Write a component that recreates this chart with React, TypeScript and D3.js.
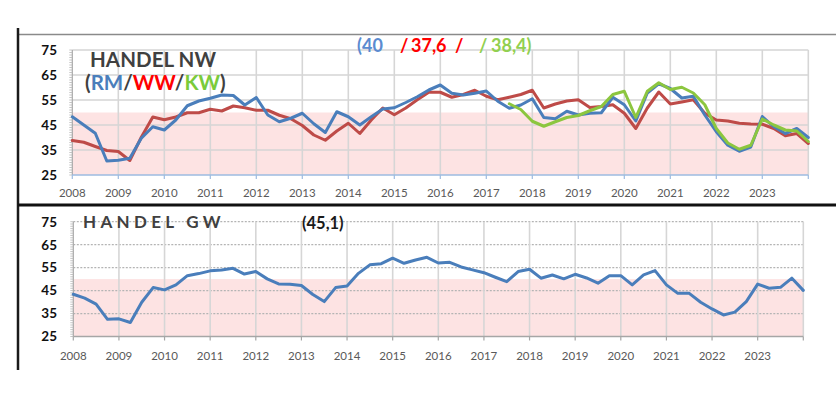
import React from "react";
import * as d3 from "d3";

// Quarterly categories 2008 Q1 .. 2024 Q1 (x positions in years)
const quarters: number[] = d3.range(65).map((i) => 2008 + i / 4);
const yearTicks: number[] = [2008, 2009, 2010, 2011, 2012, 2013, 2014, 2015, 2016, 2017, 2018, 2019, 2020, 2021, 2022, 2023];
const yTicks: number[] = [25, 35, 45, 55, 65, 75];

// HANDEL NW – RM (blue)
const rmValues: number[] = [
  48.3, 45, 41.7, 30.6, 30.9, 31.7, 39.7, 44.3, 43, 47,
  52.7, 54.6, 55.7, 57, 56.8, 53, 56, 49, 46.3, 47.7,
  49.7, 45.5, 42, 50.3, 48.3, 45, 48.3, 51.4, 51.9, 54,
  56.3, 59, 61, 57.7, 57, 57.7, 58.6, 54.5, 51.7, 53,
  55.5, 48, 47.5, 50.5, 49, 49.7, 49.9, 56.1, 53.1, 46.6,
  57.8, 61.5, 59.6, 55.8, 56.5, 49, 42.3, 36.9, 34.5, 36.2,
  48.4, 44.3, 41.6, 43.6, 40,
];
// HANDEL NW – WW (red)
const wwValues: number[] = [
  38.8, 38.1, 36.4, 34.8, 34.4, 30.8, 40.1, 48.2, 47.1, 48.2,
  49.9, 49.9, 51.3, 50.6, 52.6, 51.9, 50.9, 50.9, 48.9, 47.5,
  44.8, 41, 38.9, 42.6, 45.7, 41.6, 47, 51.8, 49.1, 51.8,
  55.1, 58.1, 58.1, 56.1, 57.2, 58.9, 56.5, 55.1, 56.1, 57.2,
  58.9, 51.8, 53.4, 54.6, 55.1, 52, 52.4, 53.1, 49.7, 43.6,
  51.8, 58.2, 53.4, 54.2, 55.1, 49.7, 47, 46.6, 45.7, 45.4,
  45.3, 43.6, 40.7, 41.6, 37.6,
];
// HANDEL NW – KW (green), starts at 2017 Q3 (category index 38)
const kwStartIndex = 38;
const kwValues: number[] = [
  53.5, 51.2, 46.5, 44.5, 46.3, 48, 48.8, 50.7, 52.4, 57.2,
  58.5, 48, 58.5, 61.9, 59.2, 60.1, 57.8, 53.1, 43.6, 37.8,
  35.3, 36.9, 47.4, 45, 43, 42.6, 38.4,
];
// HANDEL GW (blue)
const gwValues: number[] = [
  43.4, 41.7, 39.1, 32.5, 32.7, 31.1, 39.9, 46.3, 45.3, 47.5,
  51.5, 52.4, 53.6, 54, 54.7, 52.2, 53.3, 50.1, 47.9, 47.8,
  47.2, 43.3, 40.2, 46.3, 47, 52.5, 56.2, 56.7, 59.1, 56.9,
  58.3, 59.5, 57, 57.3, 55.3, 54, 52.8, 50.8, 48.9, 53.3,
  54.3, 50.4, 51.8, 50.1, 52.1, 50.5, 48.2, 51.5, 51.5, 47.5,
  51.8, 53.7, 47.5, 43.8, 43.8, 39.9, 37, 34.4, 35.6, 40.2,
  47.8, 46, 46.4, 50.4, 45.1,
];

const BLUE = "#4a7ebb";
const RED = "#be4b48";
const GREEN = "#8cc63f";
const PINK = "#fde3e3";
const FONT = "Lato, 'Liberation Sans', sans-serif";

type Series = { values: (number | null)[]; color: string };

function Panel(props: {
  x0: number; x1: number; yTop: number; yBot: number;
  series: Series[]; dashedH: boolean; labelY: number; axisColor: string;
}) {
  const { x0, x1, yTop, yBot, series, dashedH, labelY, axisColor } = props;
  const x = d3.scaleLinear().domain([2008, 2024]).range([x0, x1]);
  const y = d3.scaleLinear().domain([25, 75]).range([yBot, yTop]);
  const line = d3
    .line<[number, number | null]>()
    .defined((d) => d[1] != null)
    .x((d) => x(d[0]))
    .y((d) => y(d[1] as number));
  const minor = d3.range(25, 75.01, 1);
  const vGrid = d3.range(2009, 2025);
  return (
    <g>
      <rect x={x0} y={y(50)} width={x1 - x0} height={y(25) - y(50)} fill={PINK} />
      {yTicks.filter((t) => t > 25).map((t) => (
        <line key={"h" + t} x1={x0} x2={x1} y1={y(t)} y2={y(t)}
          stroke={dashedH ? "#b4b4b4" : "#d4d4d4"} strokeWidth={dashedH ? 1.2 : 1.4}
          strokeDasharray={dashedH ? "2,1.5" : undefined} />
      ))}
      {vGrid.map((t) => (
        <line key={"v" + t} x1={x(t)} x2={x(t)} y1={yTop} y2={yBot}
          stroke="#d6d6d6" strokeWidth={1.6} />
      ))}
      {/* y axis with minor ticks */}
      <line x1={x0} x2={x0} y1={yTop} y2={yBot} stroke="#a8a8a8" strokeWidth={1.2} />
      {minor.map((m) => (
        <line key={"m" + m} x1={x0 - 3} x2={x0} y1={y(m)} y2={y(m)} stroke="#b8b8b8" strokeWidth={0.8} />
      ))}
      {/* x axis */}
      <line x1={x0} x2={x1} y1={yBot} y2={yBot} stroke={axisColor} strokeWidth={1.5} />
      {yearTicks.concat([2024]).map((t) => (
        <line key={"t" + t} x1={x(t)} x2={x(t)} y1={yBot} y2={yBot + 4} stroke={axisColor} strokeWidth={1.2} />
      ))}
      {yTicks.map((t) => (
        <text key={"yl" + t} x={57} y={y(t)} dy="0.36em" textAnchor="end"
          fontFamily={FONT} fontWeight={700} fontSize={13.5} fill="#111">{t}</text>
      ))}
      {yearTicks.map((t) => (
        <text key={"xl" + t} x={x(t)} y={labelY} textAnchor="middle"
          fontFamily={FONT} fontSize={11.5} fill="#595959">{t}</text>
      ))}
      {series.map((s, i) => (
        <path key={"s" + i}
          d={line(quarters.map((q, k) => [q, s.values[k] ?? null]) as [number, number | null][]) || ""}
          fill="none" stroke={s.color} strokeWidth={3} strokeLinejoin="round" strokeLinecap="round" />
      ))}
    </g>
  );
}

export default function App() {
  const kwFull: (number | null)[] = quarters.map((_, k) =>
    k >= kwStartIndex ? kwValues[k - kwStartIndex] : null
  );
  return (
    <svg width={836} height={397} style={{ position: "absolute", left: 0, top: 0, background: "#fff" }}>
      {/* frame */}
      <line x1={18} x2={836} y1={34.5} y2={34.5} stroke="#8a8a8a" strokeWidth={1.5} />
      <line x1={18} x2={18} y1={28} y2={370} stroke="#1a1a1a" strokeWidth={2.5} />
      <line x1={18} x2={836} y1={205} y2={205} stroke="#111" strokeWidth={3} />

      <Panel x0={72.3} x1={808.3} yTop={50} yBot={175}
        series={[
          { values: wwValues, color: RED },
          { values: rmValues, color: BLUE },
          { values: kwFull, color: GREEN },
        ]}
        dashedH={false} labelY={197} axisColor="#9dbbe0" />
      <Panel x0={73.3} x1={803.3} yTop={221.7} yBot={336.5}
        series={[{ values: gwValues, color: BLUE }]}
        dashedH={true} labelY={360} axisColor="#a6a6a6" />

      {/* titles */}
      <text x={90} y={67} fontFamily={FONT} fontWeight={700} fontSize={20.5} fill="#404040" textLength={126}>HANDEL NW</text>
      <text x={85} y={90} fontFamily={FONT} fontWeight={700} fontSize={20.5} fill="#404040">
        (<tspan fill="#4a7ebb">RM</tspan>/<tspan fill="#ff0000">WW</tspan>/<tspan fill="#7acb3a">KW</tspan>)
      </text>
      <g fontFamily={FONT} fontWeight={700} fontSize={18}>
        <text x={357} y={52} fill="#5b8bd0">(40</text>
        <text x={400} y={52} fill="#ff0000">/</text>
        <text x={411} y={52} fill="#ff0000">37,6</text>
        <text x={455} y={52} fill="#ff0000">/</text>
        <text x={479} y={52} fill="#92d050">/</text>
        <text x={491} y={52} fill="#92d050">38,4)</text>
      </g>
      <text x={83} y={227.5} fontFamily={FONT} fontWeight={700} fontSize={17} fill="#404040" letterSpacing={4.3}>HANDEL GW</text>
      <text x={302} y={228.5} fontFamily={FONT} fontWeight={700} fontSize={16.5} fill="#1a1a1a">(45,1)</text>
    </svg>
  );
}
